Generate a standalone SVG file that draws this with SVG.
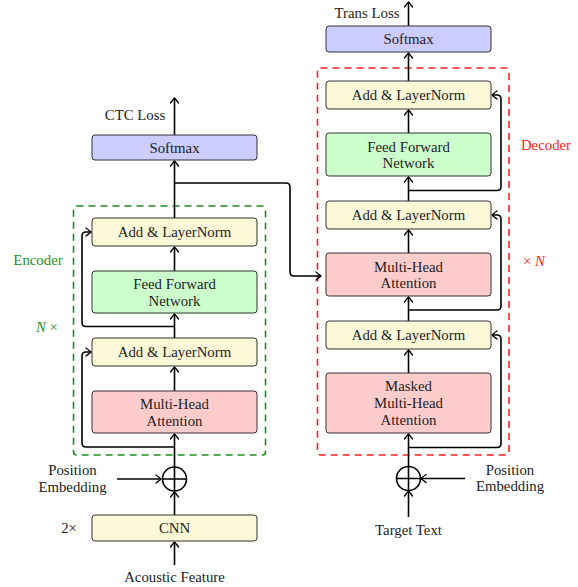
<svg xmlns="http://www.w3.org/2000/svg" width="578" height="587" viewBox="0 0 578 587">
<defs>
<marker id="ah" viewBox="-6 -5 8 10" markerWidth="8" markerHeight="10" refX="0" refY="0" orient="auto" markerUnits="userSpaceOnUse">
<path d="M-5,-4 Q-1,-1 0,0 Q-1,1 -5,4" fill="none" stroke="#000" stroke-width="1.3" stroke-linecap="round"/>
</marker>
<style>
text{font-family:'Liberation Serif','DejaVu Serif',serif;font-size:14.8px;fill:#222;text-anchor:middle;dominant-baseline:central}
.box{stroke:#333;stroke-width:1}
.sm{fill:#ccccff}
.ln{fill:#fdf8d7}
.ff{fill:#ccffcc}
.mh{fill:#ffcccc}
.c{fill:none;stroke:#000;stroke-width:1.6;stroke-linejoin:round}
.a{marker-end:url(#ah)}
</style>
</defs>
<g font-family="Liberation Serif, DejaVu Serif, serif">
<rect x="73.5" y="206" width="192" height="249" rx="3" fill="none" stroke="#1f8f1f" stroke-width="1.6" stroke-dasharray="7,5"/>
<rect x="317.5" y="68" width="191.5" height="387" rx="3" fill="none" stroke="#ff2020" stroke-width="1.6" stroke-dasharray="7,5"/>
<g id="connectors">
<path class="c a" d="M174.5,135 V98"/>
<path class="c a" d="M174.5,218 V161"/>
<path class="c a" d="M174.5,183 H286 Q290,183 290,187 V272 Q290,276 294,276 H321"/>
<path class="c a" d="M174.5,271 V247"/>
<path class="c a" d="M174.5,338 V314"/>
<path class="c a" d="M174.5,326.5 H86 Q82,326.5 82,322.5 V236 Q82,232 86,232 H91"/>
<path class="c a" d="M174.5,391 V367"/>
<path class="c a" d="M174.5,467 V434"/>
<path class="c a" d="M174.5,447 H86 Q82,447 82,443 V356 Q82,352 86,352 H91"/>
<path class="c a" d="M174.5,515 V492"/>
<path class="c a" d="M174.5,565 V542"/>
<path class="c a" d="M117,479 H161"/>
<path class="c a" d="M408.5,26 V2"/>
<path class="c a" d="M408.5,81 V53"/>
<path class="c a" d="M408.5,133 V110"/>
<path class="c a" d="M408.5,201 V177"/>
<path class="c a" d="M408.5,190.5 H497 Q501,190.5 501,186.5 V99 Q501,95 497,95 H492"/>
<path class="c a" d="M408.5,253 V230"/>
<path class="c a" d="M408.5,321 V297"/>
<path class="c a" d="M408.5,310 H497 Q501,310 501,306 V219 Q501,215 497,215 H492"/>
<path class="c a" d="M408.5,373 V350"/>
<path class="c a" d="M408.5,466 V434"/>
<path class="c a" d="M408.5,447.5 H497 Q501,447.5 501,443.5 V339 Q501,335 497,335 H492"/>
<path class="c a" d="M408.5,517 V491"/>
<path class="c a" d="M465,478.5 H421"/>
</g>
<g id="enc-softmax"><rect class="box sm" x="92" y="135" width="165" height="25" rx="3"/><text x="174.5" y="148">Softmax</text></g>
<g id="enc-addnorm2"><rect class="box ln" x="92" y="218" width="165" height="28" rx="3"/><text x="174.5" y="232">Add &amp; LayerNorm</text></g>
<g id="enc-ffn"><rect class="box ff" x="92" y="271" width="165" height="42" rx="3"/><text x="174.5" y="284">Feed Forward</text><text x="174.5" y="300.5">Network</text></g>
<g id="enc-addnorm1"><rect class="box ln" x="92" y="338" width="165" height="28" rx="3"/><text x="174.5" y="351.5">Add &amp; LayerNorm</text></g>
<g id="enc-mha"><rect class="box mh" x="92" y="391" width="165" height="42" rx="3"/><text x="174.5" y="404">Multi-Head</text><text x="174.5" y="420.5">Attention</text></g>
<g id="enc-plus"><circle cx="174.5" cy="479" r="12" fill="none" stroke="#000" stroke-width="1.6"/><path d="M162.5,479 H186.5 M174.5,467 V491" stroke="#000" stroke-width="1.6"/></g>
<g id="cnn"><rect class="box ln" x="92" y="515" width="165" height="26" rx="3"/><text x="174.5" y="528">CNN</text></g>
<g id="enc-labels">
<text x="135" y="115">CTC Loss</text>
<text x="38" y="260" style="fill:#1f8f1f">Encoder</text>
<text x="47" y="327" style="fill:#1f8f1f"><tspan font-style="italic">N</tspan> ×</text>
<text x="72.5" y="470">Position</text>
<text x="72.5" y="486.5">Embedding</text>
<text x="69" y="528">2×</text>
<text x="174.5" y="577">Acoustic Feature</text>
</g>
<g id="dec-softmax"><rect class="box sm" x="326" y="26" width="165" height="26" rx="3"/><text x="408.5" y="39">Softmax</text></g>
<g id="dec-addnorm3"><rect class="box ln" x="326" y="81" width="165" height="28" rx="3"/><text x="408.5" y="95">Add &amp; LayerNorm</text></g>
<g id="dec-ffn"><rect class="box ff" x="326" y="133" width="165" height="43" rx="3"/><text x="408.5" y="146.5">Feed Forward</text><text x="408.5" y="163">Network</text></g>
<g id="dec-addnorm2"><rect class="box ln" x="326" y="201" width="165" height="28" rx="3"/><text x="408.5" y="214.5">Add &amp; LayerNorm</text></g>
<g id="dec-mha"><rect class="box mh" x="326" y="253" width="165" height="43" rx="3"/><text x="408.5" y="266.5">Multi-Head</text><text x="408.5" y="283">Attention</text></g>
<g id="dec-addnorm1"><rect class="box ln" x="326" y="321" width="165" height="28" rx="3"/><text x="408.5" y="334.5">Add &amp; LayerNorm</text></g>
<g id="dec-mmha"><rect class="box mh" x="326" y="373" width="165" height="60" rx="3"/><text x="408.5" y="386">Masked</text><text x="408.5" y="403">Multi-Head</text><text x="408.5" y="420">Attention</text></g>
<g id="dec-plus"><circle cx="408.5" cy="478.5" r="12" fill="none" stroke="#000" stroke-width="1.6"/><path d="M396.5,478.5 H420.5 M408.5,466.5 V490.5" stroke="#000" stroke-width="1.6"/></g>
<g id="dec-labels">
<text x="367" y="13">Trans Loss</text>
<text x="546" y="145" style="fill:#ff2020">Decoder</text>
<text x="534" y="261" style="fill:#ff2020">× <tspan font-style="italic">N</tspan></text>
<text x="510" y="469.5">Position</text>
<text x="510" y="486">Embedding</text>
<text x="408.5" y="530">Target Text</text>
</g>
</g>
</svg>
